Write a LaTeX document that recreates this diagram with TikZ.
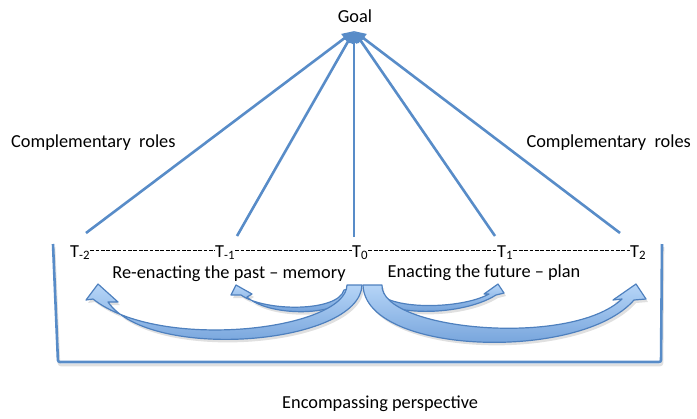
\documentclass[tikz,border=0pt]{standalone}
\usepackage{fontspec}
\setmainfont{Carlito}
\usetikzlibrary{arrows.meta}

\definecolor{lineblue}{RGB}{88,140,200}
\definecolor{edgeblue}{RGB}{78,128,190}
\definecolor{fillhi}{RGB}{182,213,247}
\definecolor{filllo}{RGB}{100,150,212}

% outlines of the four curved block arrows leaving T0
\newcommand\pathSmallLeft{(344,290) .. controls (338,312) and (265,312) .. (241,295) -- (231,295) -- (236,285) -- (252,294) -- (247,297) .. controls (270,318) and (350,318) .. (355,287) -- cycle}
\newcommand\pathSmallRight{(377,290) .. controls (385,310) and (460,310) .. (489,294) -- (484,294) -- (498,284) -- (504,293) -- (496,295) .. controls (460,318) and (372,318) .. (366,287) -- cycle}
\newcommand\pathBigLeft{(347,285) .. controls (346,330) and (160,352) .. (93,299) -- (86,300) -- (98,284) -- (118,302) -- (108,302) .. controls (150,362) and (360,345) .. (362,285) -- cycle}
\newcommand\pathBigRight{(382,285) .. controls (380,330) and (570,348) .. (622,299) -- (613,300) -- (636,284) -- (646,299) -- (634,300) .. controls (580,362) and (365,355) .. (363,285) -- cycle}

\begin{document}
\begin{tikzpicture}[x=1bp, y=-1bp, font=\fontsize{18.4}{22}\selectfont,
  link/.style={draw=lineblue, line width=2.6bp, -{Triangle[length=12bp,width=10bp]}},
  tick/.style={anchor=base west, inner sep=0pt},
  caption/.style={anchor=base, inner sep=0pt},
  timeline/.style={draw=black, line width=1bp, dash pattern=on 3.8bp off 1.6bp},
  blockarrow/.style={draw=edgeblue, line width=1.2bp, line join=round, top color=fillhi, bottom color=filllo},
  softshadow/.style={fill=black, opacity=0.12, shift={(2,3)}},
  frame/.style={draw=lineblue, line width=2.6bp, line join=round, rounded corners=2bp}]

\useasboundingbox (0,0) rectangle (697,418);

% goal at the top
\node[caption] (goal) at (355,22) {Goal};
\coordinate (apex) at (354,31);

% time points
\node[tick] (tm2) at (70,257) {T\textsubscript{-2}};
\node[tick] (tm1) at (215,257) {T\textsubscript{-1}};
\node[tick] (t0)  at (352,257) {T\textsubscript{0}};
\node[tick] (t1)  at (497,257) {T\textsubscript{1}};
\node[tick] (t2)  at (630,257) {T\textsubscript{2}};

% dashed time line between the points
\draw[timeline] ([yshift=7bp]tm2.base east) -- ([yshift=7bp]tm1.base west);
\draw[timeline] ([yshift=7bp]tm1.base east) -- ([yshift=7bp]t0.base west);
\draw[timeline] ([yshift=7bp]t0.base east) -- ([yshift=7bp]t1.base west);
\draw[timeline] ([yshift=7bp]t1.base east) -- ([yshift=7bp]t2.base west);

% connectors from each time point up to the goal
\coordinate (fm2) at (86,233);
\coordinate (fm1) at (237,236);
\coordinate (f0)  at (354,237);
\coordinate (f1)  at (495,236);
\coordinate (f2)  at (620,233);
\draw[link] (fm2) -- (apex);
\draw[link] (fm1) -- (apex);
\draw[link] (f0)  -- (apex);
\draw[link] (f1)  -- (apex);
\draw[link] (f2)  -- (apex);

% side labels
\node[anchor=base west, inner sep=0pt] (cl) at (11,147) {Complementary~~roles};
\node[anchor=base east, inner sep=0pt] (cr) at (691,147) {Complementary~~roles};

% captions under the time line
\node[caption] (past) at (229,278) {Re-enacting the past – memory};
\node[caption] (future) at (484,277) {Enacting the future – plan};

% encompassing bracket
\draw[frame, draw=black, opacity=0.12, shift={(1,3)}] (53,244) -- (58,362) -- (661,362) -- (662,244);
\draw[frame] (53,244) -- (58,362) -- (661,362) -- (662,244);
\node[anchor=base west, inner sep=0pt] (enc) at (282,408) {Encompassing perspective};

% curved block arrows from T0
\fill[softshadow] \pathSmallLeft;
\fill[softshadow] \pathSmallRight;
\fill[softshadow] \pathBigLeft;
\fill[softshadow] \pathBigRight;
\path[blockarrow] \pathSmallLeft;
\path[blockarrow] \pathSmallRight;
\path[blockarrow] \pathBigLeft;
\path[blockarrow] \pathBigRight;

\end{tikzpicture}
\end{document}
